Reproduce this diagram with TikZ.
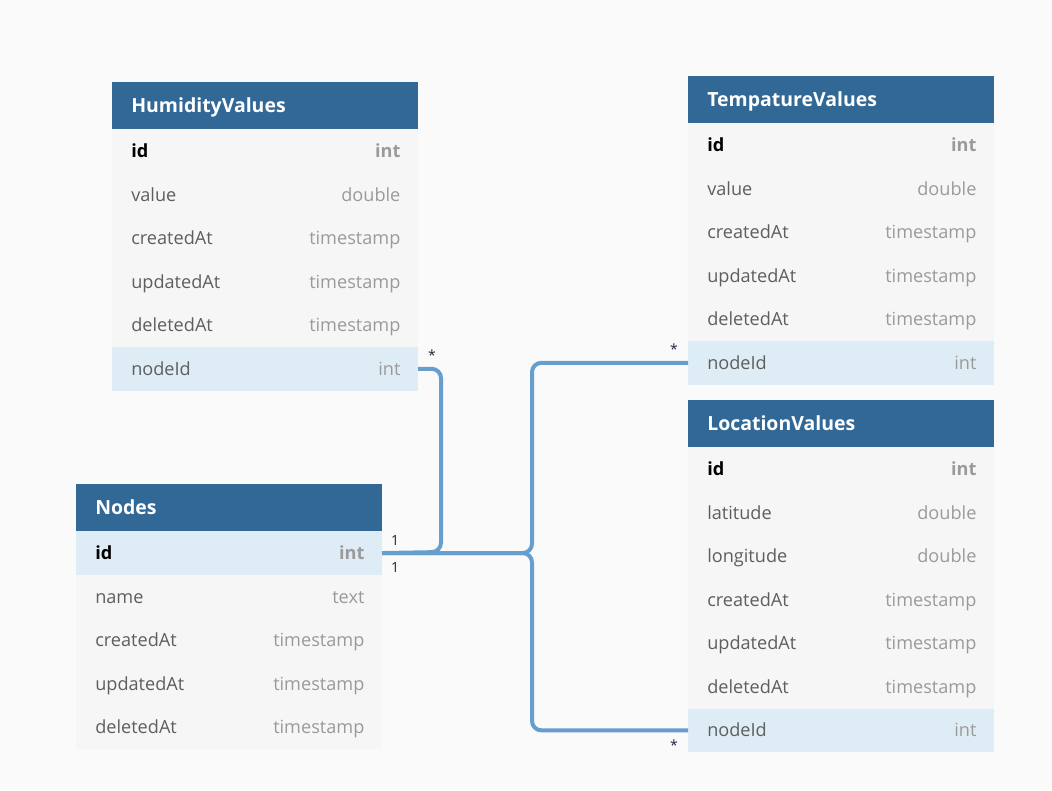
\documentclass[tikz,border=0pt]{standalone}
\usepackage{fontspec}
\setmainfont{Open Sans}
\definecolor{bgc}{HTML}{FAFAFA}
\definecolor{hdrc}{HTML}{316896}
\definecolor{rowg}{HTML}{F6F6F6}
\definecolor{rowb}{HTML}{DEEDF5}
\definecolor{relc}{HTML}{669FCE}
\definecolor{fieldc}{HTML}{5E5E5E}
\definecolor{typec}{HTML}{9A9A9A}
\definecolor{lblc}{HTML}{22223A}
\newcommand\FP[1]{\textbf{\color{black}#1}}
\newcommand\FN[1]{{\color{fieldc}#1}}
\newcommand\TP[1]{\textbf{\color{typec}#1}}
\newcommand\TN[1]{{\color{typec}#1}}
\tikzset{
  x=0.75pt, y=-0.75pt,
  hdrbox/.style={draw=none, fill=hdrc, inner sep=0pt, minimum width=229.1pt, minimum height=35.25pt},
  hdrtxt/.style={inner sep=0pt, text=white, font=\fontsize{14.6}{17}\selectfont\bfseries},
  rowbox/.style={draw=none, inner sep=0pt, minimum width=229.1pt, minimum height=32.66pt},
  cell/.style={inner sep=0pt, font=\fontsize{13.6}{16}\selectfont},
  rel/.style={draw=relc, line width=3pt, rounded corners=7pt},
  lbl/.style={inner sep=0pt, text=lblc, font=\fontsize{10.5}{12}\selectfont},
}
\newcommand\dbtable[5]{%
  \node[hdrbox, anchor=north west] (#1) at (#2,#3) {};
  \node[hdrtxt, anchor=mid west] (#1-t) at ([xshift=14.25pt,yshift=-2.6pt]#1.west) {#4};
  \foreach [count=\i] \fn/\ty/\cl/\kd in {#5} {
    \node[rowbox, fill=\cl, anchor=north west] (#1-\i) at ({#2},{#3+47+(\i-1)*43.55}) {};
    \node[cell, anchor=mid west] (#1-\i-f) at ([xshift=14.25pt,yshift=-2.2pt]#1-\i.west) {\csname F\kd\endcsname{\fn}};
    \node[cell, anchor=mid east] (#1-\i-y) at ([xshift=-13pt,yshift=-2.2pt]#1-\i.east) {\csname T\kd\endcsname{\ty}};
  }%
}
\begin{document}
\begin{tikzpicture}
\fill[bgc] (0,0) rectangle (1052,790);
\useasboundingbox (0,0) rectangle (1052,790);

\dbtable{hum}{112}{82}{HumidityValues}{id/int/rowg/P, value/double/rowg/N, createdAt/timestamp/rowg/N, updatedAt/timestamp/rowg/N, deletedAt/timestamp/rowg/N, nodeId/int/rowb/N}
\dbtable{nodes}{76}{484}{Nodes}{id/int/rowb/P, name/text/rowg/N, createdAt/timestamp/rowg/N, updatedAt/timestamp/rowg/N, deletedAt/timestamp/rowg/N}
\dbtable{tmp}{688}{76}{TempatureValues}{id/int/rowg/P, value/double/rowg/N, createdAt/timestamp/rowg/N, updatedAt/timestamp/rowg/N, deletedAt/timestamp/rowg/N, nodeId/int/rowb/N}
\dbtable{loc}{688}{400}{LocationValues}{id/int/rowg/P, latitude/double/rowg/N, longitude/double/rowg/N, createdAt/timestamp/rowg/N, updatedAt/timestamp/rowg/N, deletedAt/timestamp/rowg/N, nodeId/int/rowb/N}

\coordinate (j1) at (441,552);
\coordinate (j2) at (532,552);
\draw[rel] (hum-6.east) -| (j1) -- (nodes-1.east);
\draw[rel] (nodes-1.east) -| (j2 |- tmp-6.west) -- (tmp-6.west);
\draw[rel] (nodes-1.east) -| (j2 |- loc-7.west) -- (loc-7.west);

\node[lbl] (s1) at (432,355) {*};
\node[lbl] (s2) at (674,349) {*};
\node[lbl] (s3) at (674,745) {*};
\node[lbl] (o1) at (395,540) {1};
\node[lbl] (o2) at (395,567) {1};
\end{tikzpicture}
\end{document}
